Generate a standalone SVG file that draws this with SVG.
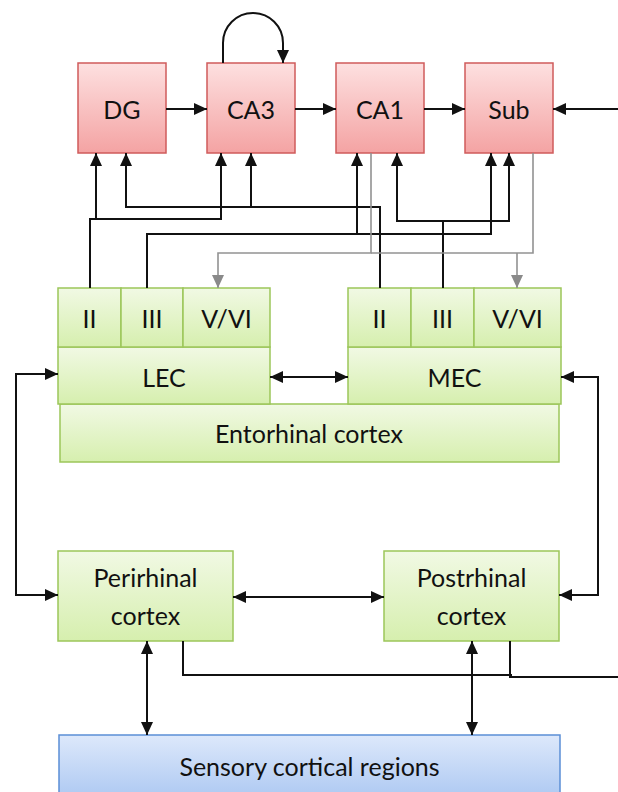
<svg xmlns="http://www.w3.org/2000/svg" width="618" height="792" viewBox="0 0 618 792">
<style>
  .t{font-family:Lato,"Open Sans","Liberation Sans",sans-serif;font-size:25px;fill:#111;text-anchor:middle}
  .pk{fill:url(#gp);stroke:#cf5b5b;stroke-width:1.5}
  .gr{fill:url(#gg);stroke:#9cc65a;stroke-width:1.5}
  .bl{fill:url(#gb);stroke:#5b8fd6;stroke-width:1.5}
  .c{fill:none;stroke:#111;stroke-width:2}
  .g{fill:none;stroke:#929292;stroke-width:1.6}
  .a{marker-end:url(#ah)}
  .aa{marker-start:url(#ah);marker-end:url(#ah)}
  .ag{marker-end:url(#ahg)}
</style>
<defs>
  <linearGradient id="gp" x1="0" y1="0" x2="0" y2="1">
    <stop offset="0" stop-color="#fde0e0"/>
    <stop offset="1" stop-color="#f4a3a3"/>
  </linearGradient>
  <linearGradient id="gg" x1="0" y1="0" x2="0" y2="1">
    <stop offset="0" stop-color="#f1f9e4"/>
    <stop offset="1" stop-color="#d6efae"/>
  </linearGradient>
  <linearGradient id="gb" x1="0" y1="0" x2="0" y2="1">
    <stop offset="0" stop-color="#dde8fb"/>
    <stop offset="1" stop-color="#a8c5f1"/>
  </linearGradient>
  <marker id="ah" markerUnits="userSpaceOnUse" markerWidth="14" markerHeight="12" refX="13" refY="6" orient="auto-start-reverse">
    <path d="M0,0 L13,6 L0,12 z" fill="#111"/>
  </marker>
  <marker id="ahg" markerUnits="userSpaceOnUse" markerWidth="14" markerHeight="12" refX="13" refY="6" orient="auto-start-reverse">
    <path d="M0,0 L13,6 L0,12 z" fill="#8a8a8a"/>
  </marker>
</defs>

<g id="DG"><rect class="pk" x="78" y="63" width="88" height="90"/><text class="t" x="122" y="119">DG</text></g>
<g id="CA3"><rect class="pk" x="207" y="63" width="88" height="90"/><text class="t" x="251" y="119">CA3</text></g>
<g id="CA1"><rect class="pk" x="336" y="63" width="88" height="90"/><text class="t" x="380" y="119">CA1</text></g>
<g id="Sub"><rect class="pk" x="465" y="63" width="88" height="90"/><text class="t" x="509" y="119">Sub</text></g>

<g id="EC"><rect class="gr" x="60" y="404" width="499" height="58"/><text class="t" x="309" y="443">Entorhinal cortex</text></g>
<g id="LEC">
  <rect class="gr" x="58" y="347" width="212" height="57"/><text class="t" x="164" y="387">LEC</text>
  <rect class="gr" x="58" y="288" width="63" height="59"/><text class="t" x="89.5" y="328">II</text>
  <rect class="gr" x="121" y="288" width="62" height="59"/><text class="t" x="152" y="328">III</text>
  <rect class="gr" x="183" y="288" width="87" height="59"/><text class="t" x="226.5" y="328">V/VI</text>
</g>
<g id="MEC">
  <rect class="gr" x="348" y="347" width="213" height="57"/><text class="t" x="454.5" y="387">MEC</text>
  <rect class="gr" x="348" y="288" width="63" height="59"/><text class="t" x="379.5" y="328">II</text>
  <rect class="gr" x="411" y="288" width="63" height="59"/><text class="t" x="442.5" y="328">III</text>
  <rect class="gr" x="474" y="288" width="87" height="59"/><text class="t" x="517.5" y="328">V/VI</text>
</g>
<g id="Perirhinal"><rect class="gr" x="58" y="551" width="175" height="90"/><text class="t" x="145.5" y="587">Perirhinal</text><text class="t" x="145.5" y="625">cortex</text></g>
<g id="Postrhinal"><rect class="gr" x="384" y="551" width="175" height="90"/><text class="t" x="471.5" y="587">Postrhinal</text><text class="t" x="471.5" y="625">cortex</text></g>
<g id="Sensory"><rect class="bl" x="59" y="735" width="501" height="70"/><text class="t" x="309.5" y="776">Sensory cortical regions</text></g>

<g id="connectors">
  <path class="c a" d="M166,109 H207"/>
  <path class="c a" d="M295,109 H336"/>
  <path class="c a" d="M424,109 H465"/>
  <path class="c a" d="M618,109 H553"/>
  <path class="c a" d="M223,63 V43 A30,30 0 0 1 283,43 V63"/>

  <path class="c a" d="M90,288 V219 H221 V153"/>
  <path class="c a" d="M96,219 V153"/>
  <path class="c a" d="M147,288 V234 H491 V153"/>
  <path class="c a" d="M357,234 V153"/>
  <path class="c a" d="M380,288 V207 H126 V153"/>
  <path class="c a" d="M251,207 V153"/>
  <path class="c a" d="M443,288 V221 H397 V153"/>
  <path class="c a" d="M443,221 H509 V153"/>

  <path class="g ag" d="M371,153 V253 H218 V288"/>
  <path class="g" d="M533,153 V253 H371"/>
  <path class="g ag" d="M517,253 V288"/>

  <path class="c aa" d="M270,377 H348"/>
  <path class="c aa" d="M58,374 H16 V595 H58"/>
  <path class="c aa" d="M561,377 H598 V595 H559"/>
  <path class="c aa" d="M233,597 H384"/>
  <path class="c aa" d="M147,641 V735"/>
  <path class="c aa" d="M472,641 V735"/>
  <path class="c" d="M183,641 V675 H512"/>
  <path class="c" d="M510,641 V677 H618"/>
</g>
</svg>
